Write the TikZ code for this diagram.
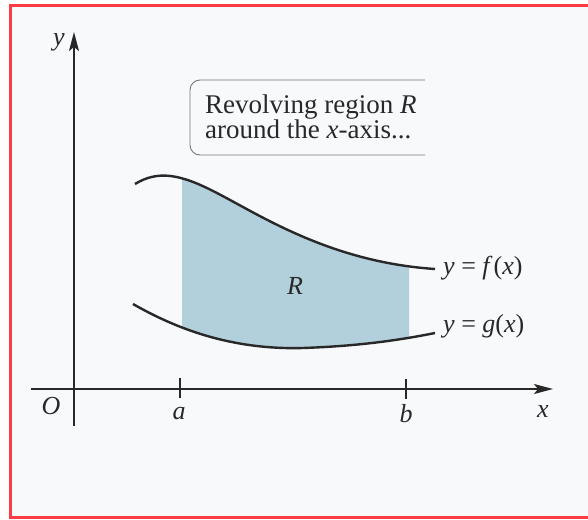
\documentclass[tikz,border=0pt]{standalone}
\usepackage{fontspec}
\setmainfont{Liberation Serif}
\usetikzlibrary{arrows.meta}
\definecolor{pagebg}{RGB}{247,249,251}
\definecolor{frame}{RGB}{250,60,70}
\definecolor{ink}{RGB}{40,40,40}
\definecolor{regionfill}{RGB}{178,207,220}
\definecolor{boxline}{RGB}{120,120,120}
\tikzset{
  axis/.style={ink, line width=1.4pt, -{Stealth[length=19pt,width=10pt,inset=4pt]}},
  curve/.style={ink, line width=2.4pt},
  tickmark/.style={ink, line width=1.4pt},
  lbl/.style={ink, font=\fontsize{26}{28}\selectfont, inner sep=0pt},
  boxtext/.style={ink, font=\fontsize{27}{28}\selectfont, inner sep=0pt, anchor=base west},
}
\begin{document}
\begin{tikzpicture}[x=1pt,y=-1pt]
\useasboundingbox (0,0) rectangle (588,519);
\fill[white] (0,0) rectangle (588,519);
\fill[pagebg] (10.5,5.5) rectangle (588,517.5);
\draw[frame, line width=2.2pt] (588,5.5) -- (10.5,5.5) -- (10.5,517.5) -- (588,517.5);

% shaded region R
\begin{scope}
\clip (182,0) rectangle (409,519);
\fill[regionfill] (135,184) .. controls (158,170) and (180,174) .. (215,192)
  .. controls (260,215) and (330,262) .. (435,269)
  -- (435,333) .. controls (400,340) and (360,346) .. (303,348)
  .. controls (230,350) and (175,328) .. (133,304) -- cycle;
\end{scope}

% curves
\draw[curve] (135,184) .. controls (158,170) and (180,174) .. (215,192)
  .. controls (260,215) and (330,262) .. (435,269);
\draw[curve] (133,304) .. controls (175,328) and (230,350) .. (303,348)
  .. controls (360,346) and (400,340) .. (435,333);

% axes
\coordinate (xs) at (31,389);
\coordinate (xe) at (553,389);
\coordinate (ys) at (74,426);
\coordinate (ye) at (74,32);
\draw[axis] (xs) -- (xe);
\draw[axis] (ys) -- (ye);

% ticks
\coordinate (at) at (180,378);
\coordinate (ab) at (180,398);
\coordinate (bt) at (406,379);
\coordinate (bb) at (406,399);
\draw[tickmark] (at) -- (ab);
\draw[tickmark] (bt) -- (bb);

% labels
\node[lbl] (ylab) at (59,42) {\textit{y}};
\node[lbl] (xlab) at (543,412) {\textit{x}};
\node[lbl] (olab) at (51,406) {\textit{O}};
\node[lbl] (alab) at (179,414) {\textit{a}};
\node[lbl] (blab) at (406,414) {\textit{b}};
\node[lbl] (rlab) at (295,286) {\textit{R}};
\node[lbl, anchor=base west] (flab) at (443,274) {\textit{y} = \textit{f}\kern1pt(\textit{x})};
\node[lbl, anchor=base west] (glab) at (443,332) {\textit{y} = \textit{g}(\textit{x})};

% caption box (open on the right)
\draw[boxline, line width=0.9pt, rounded corners=10pt] (425,80) -- (190,80) -- (190,155) -- (425,155);
\node[boxtext] (cap1) at (205,113) {Revolving region \textit{R}};
\node[boxtext] (cap2) at (205,138) {around the \textit{x}-axis...};
\end{tikzpicture}
\end{document}
